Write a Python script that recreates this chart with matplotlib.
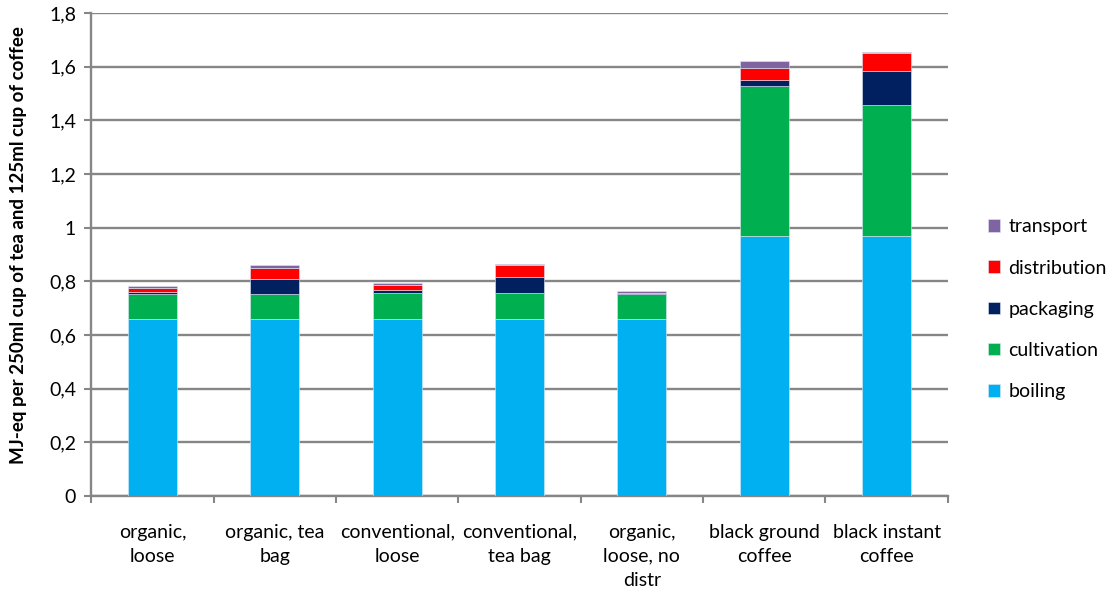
import matplotlib
matplotlib.use('Agg')
import matplotlib.pyplot as plt
import numpy as np

plt.rcParams['font.family'] = ['Lato', 'DejaVu Sans']

categories = ['organic,\nloose', 'organic, tea\nbag', 'conventional,\nloose',
              'conventional,\ntea bag', 'organic,\nloose, no\ndistr',
              'black ground\ncoffee', 'black instant\ncoffee']

boiling      = [0.66, 0.66, 0.66, 0.66, 0.66, 0.97, 0.97]
cultivation  = [0.092, 0.092, 0.098, 0.097, 0.091, 0.56, 0.486]
packaging    = [0.007, 0.055, 0.011, 0.060, 0.007, 0.022, 0.127]
distribution = [0.015, 0.042, 0.017, 0.042, 0.0, 0.043, 0.067]
transport    = [0.007, 0.012, 0.007, 0.007, 0.005, 0.026, 0.006]

yticks = [0, 0.2, 0.4, 0.6, 0.8, 1, 1.2, 1.4, 1.6, 1.8]
ytick_labels = ['0', '0,2', '0,4', '0,6', '0,8', '1', '1,2', '1,4', '1,6', '1,8']

series = [('boiling', boiling, '#00B0F0'),
          ('cultivation', cultivation, '#00B050'),
          ('packaging', packaging, '#002060'),
          ('distribution', distribution, '#FF0000'),
          ('transport', transport, '#8064A2')]

fs = 14

fig = plt.figure(figsize=(11.15, 5.96), dpi=100)
ax = fig.add_axes([0.082, 0.168, 0.768, 0.81])

x = np.arange(len(categories))
bottom = np.zeros(len(categories))
handles = []
for name, vals, col in series:
    h = ax.bar(x, vals, 0.4, bottom=bottom, color=col, label=name,
               edgecolor='#dfe8f5', linewidth=0.4, zorder=3)
    handles.append(h)
    bottom += np.array(vals)

grid_col = '#868686'
ax.set_ylim(0, 1.8)
ax.set_xlim(-0.5, len(categories) - 0.5)
ax.set_yticks(yticks)
ax.set_yticklabels(ytick_labels)
ax.yaxis.grid(True, color=grid_col, linewidth=1.7, zorder=0)
ax.set_axisbelow(True)

ax.set_xticks(x)
ax.set_xticklabels(categories, fontsize=fs, linespacing=1.5)
ax.set_xticks(np.arange(len(categories) + 1) - 0.5, minor=True)
ax.tick_params(axis='x', which='major', length=0, pad=20)
ax.tick_params(axis='x', which='minor', length=5, width=1.5, color=grid_col)
ax.tick_params(axis='y', length=5, width=1.5, color=grid_col, labelsize=fs, pad=6)

for side in ['top', 'right']:
    ax.spines[side].set_visible(False)
for side in ['left', 'bottom']:
    ax.spines[side].set_color(grid_col)
    ax.spines[side].set_linewidth(1.7)

ax.set_ylabel('MJ-eq per 250ml cup of tea and 125ml cup of coffee',
              fontsize=13.5, fontweight='bold', labelpad=12)
ax.yaxis.set_label_coords(-0.075, 0.52)

ax.legend(handles[::-1], [s[0] for s in series][::-1], loc='center left',
          bbox_to_anchor=(0.886, 0.481), bbox_transform=fig.transFigure,
          frameon=False, fontsize=fs, borderaxespad=0, borderpad=0,
          handlelength=0.6, handleheight=0.6, handletextpad=0.45,
          labelspacing=1.25)

fig.savefig('out.png', dpi=100)
